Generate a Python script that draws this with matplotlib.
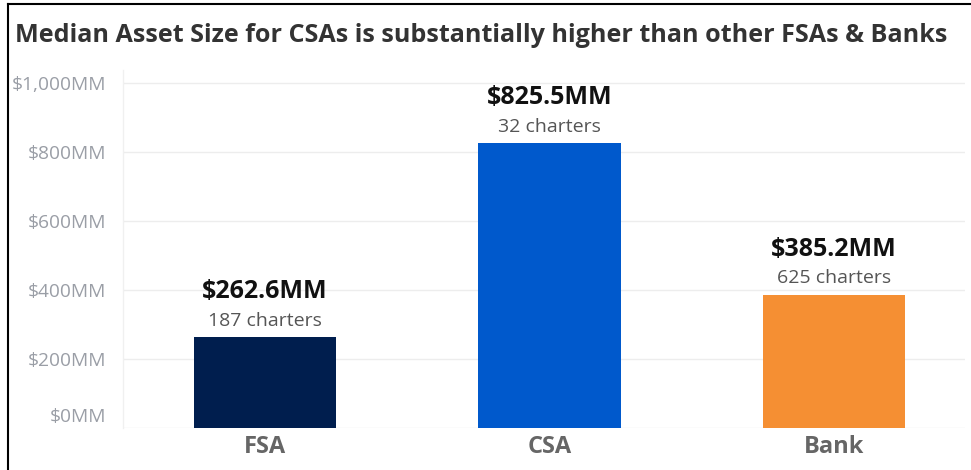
import matplotlib
matplotlib.use("Agg")
import matplotlib.pyplot as plt
from matplotlib.lines import Line2D
import matplotlib.transforms as mtransforms

categories = ["FSA", "CSA", "Bank"]
values = [262.6, 825.5, 385.2]
charters = [187, 32, 625]
colors = ["#001E4E", "#0059CC", "#F58F33"]
yticks = [0, 200, 400, 600, 800, 1000]
ytick_labels = ["$0MM", "$200MM", "$400MM", "$600MM", "$800MM", "$1,000MM"]
title = "Median Asset Size for CSAs is substantially higher than other FSAs & Banks"

W, H = 971, 470
fig = plt.figure(figsize=(W / 100, H / 100), dpi=100)
fig.patch.set_facecolor("white")

ax_left, ax_right = 123, 965
ax_bottom, ax_top = 428, 70
ax = fig.add_axes([ax_left / W, (H - ax_bottom) / H, (ax_right - ax_left) / W, (ax_bottom - ax_top) / H])

x = list(range(len(categories)))
ax.bar(x, values, width=0.5, color=colors, zorder=3)

ax.set_xlim(-0.499, 2.46)
ax.set_ylim(0, 1038)
ax.set_yticks(yticks)
ax.set_yticklabels(ytick_labels, fontsize=13.8, color="#9A9EA6", family="Open Sans")
ax.set_xticks(x)
ax.set_xticklabels(categories, fontsize=17, fontweight="bold", color="#666666", family="Open Sans")
ax.tick_params(axis="both", length=0)
ax.tick_params(axis="y", pad=12)
ax.tick_params(axis="x", pad=5)

for lbl, t in zip(ax.get_yticklabels(), yticks):
    if t == 0:
        lbl.set_transform(lbl.get_transform() + mtransforms.ScaledTranslation(0, 13 / 100, fig.dpi_scale_trans))

ax.grid(axis="y", color="#EDEDED", linewidth=1, zorder=0)
for s in ["top", "right", "bottom"]:
    ax.spines[s].set_visible(False)
ax.spines["left"].set_color("#F0F0F0")
ax.spines["left"].set_linewidth(1)

for xi, v, c in zip(x, values, charters):
    ax.annotate(f"{c} charters", (xi, v), xytext=(0, 12), textcoords="offset points",
                ha="center", va="center", fontsize=14, color="#555555", family="Open Sans")
    ax.annotate(f"${v:.1f}MM", (xi, v), xytext=(0, 33), textcoords="offset points",
                ha="center", va="center", fontsize=18, fontweight="bold", color="#111111",
                family="Open Sans")

fig.text(15 / W, 1 - 36 / H, title, ha="left", va="center", fontsize=18.1, fontweight="bold",
         color="#333333", family="Open Sans")

# frame lines (top and left)
fig.add_artist(Line2D([8 / W, 1], [1 - 4 / H, 1 - 4 / H], color="black", linewidth=1.5, transform=fig.transFigure))
fig.add_artist(Line2D([8 / W, 8 / W], [0, 1 - 4 / H], color="black", linewidth=1.5, transform=fig.transFigure))

fig.savefig("out.png", dpi=100)
